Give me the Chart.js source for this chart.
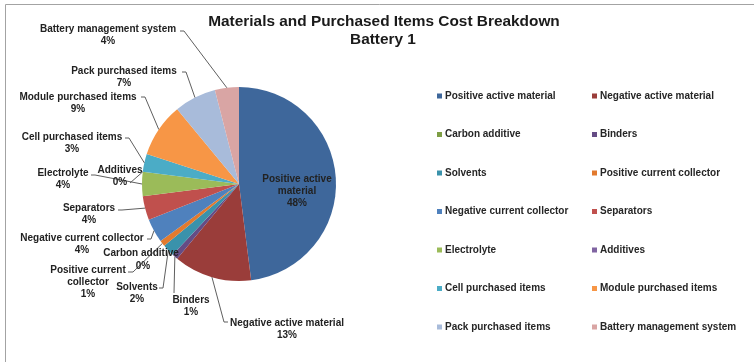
<!DOCTYPE html>
<html>
<head>
<meta charset="utf-8">
<title>Materials and Purchased Items Cost Breakdown - Battery 1</title>
<script src="https://cdn.jsdelivr.net/npm/chart.js@4.4.1/dist/chart.umd.min.js"></script>
<style>
  html, body { margin: 0; padding: 0; background: #ffffff; }
  canvas { display: block; }
</style>
</head>
<body>
<canvas id="costChart" width="754" height="362"></canvas>
<script>
// ---- data ----
const categories = [
  'Positive active material',
  'Negative active material',
  'Carbon additive',
  'Binders',
  'Solvents',
  'Positive current collector',
  'Negative current collector',
  'Separators',
  'Electrolyte',
  'Additives',
  'Cell purchased items',
  'Module purchased items',
  'Pack purchased items',
  'Battery management system'
];
const shares = [48, 13, 0, 1, 2, 1, 4, 4, 4, 0, 3, 9, 7, 4];
const chartTitle = ['Materials and Purchased Items Cost Breakdown', 'Battery 1'];

// ---- styling ----
const sliceColors = [
  '#3E679B', '#9A3D3A', '#7E9E45', '#654C85', '#3A92AB', '#E27A2E',
  '#4F81BD', '#C0504D', '#9BBB59', '#8064A2', '#4BACC6', '#F79646',
  '#A8BBDA', '#D9A5A4'
];
const FONT = '"Liberation Sans", Arial, Helvetica, sans-serif';
const PIE = { cx: 239, cy: 184, r: 97 };

// Per-slice label placement: text block centre (x, first-line y),
// words on the first line when wrapped, and the text-side end of the
// leader line [x, y, elbowX]. The other end sits on the slice's rim.
const labelLayout = [
  { x: 297, y: 179, wrap: 2 },
  { x: 287, y: 323, lead: [228, 322, 224] },
  { x: 141, y: 253, y2: 266, x2: 143 },
  { x: 191, y: 300, lead: [174, 293] },
  { x: 137, y: 287, lead: [159, 288, 163] },
  { x: 88,  y: 270, wrap: 2, lead: [128, 272, 133] },
  { x: 82,  y: 238, lead: [147, 239, 151] },
  { x: 89,  y: 208, lead: [118, 210, 122] },
  { x: 63,  y: 173, lead: [91, 175, 95] },
  { x: 120, y: 170, lead: [130, 183] },
  { x: 72,  y: 137, lead: [125, 138, 129] },
  { x: 78,  y: 97,  lead: [141, 97, 145] },
  { x: 124, y: 71,  lead: [182, 72, 186] },
  { x: 108, y: 29,  lead: [180, 31, 184] }
];

// legend grid: two columns, seven rows
const legendCols = [437, 592];
const legendTop = 96;
const legendRowGap = 38.5;

const framePlugin = {
  id: 'frame',
  beforeDraw(chart) {
    const ctx = chart.ctx;
    ctx.save();
    ctx.fillStyle = '#ffffff';
    ctx.fillRect(0, 0, chart.width, chart.height);
    ctx.strokeStyle = '#a3a3a3';
    ctx.lineWidth = 1;
    ctx.beginPath();
    ctx.moveTo(5.5, chart.height);
    ctx.lineTo(5.5, 4.5);
    ctx.lineTo(chart.width, 4.5);
    ctx.stroke();
    ctx.restore();
  }
};

const titlePlugin = {
  id: 'titleBlock',
  afterDraw(chart) {
    const ctx = chart.ctx;
    ctx.save();
    ctx.fillStyle = '#1a1a1a';
    ctx.font = 'bold 15.4px ' + FONT;
    ctx.textAlign = 'center';
    ctx.textBaseline = 'middle';
    ctx.fillText(chartTitle[0], 384, 22);
    ctx.fillText(chartTitle[1], 383, 40);
    ctx.restore();
  }
};

const sliceLabelPlugin = {
  id: 'sliceLabels',
  afterDatasetsDraw(chart) {
    const ctx = chart.ctx;
    const meta = chart.getDatasetMeta(0);
    const total = shares.reduce((a, b) => a + b, 0);
    ctx.save();
    // leader lines first, text on top
    ctx.strokeStyle = '#5f5f5f';
    ctx.lineWidth = 1;
    meta.data.forEach((arc, i) => {
      const L = labelLayout[i];
      if (!L.lead) return;
      const mid = (arc.startAngle + arc.endAngle) / 2;
      const ex = arc.x + Math.cos(mid) * arc.outerRadius;
      const ey = arc.y + Math.sin(mid) * arc.outerRadius;
      ctx.beginPath();
      ctx.moveTo(L.lead[0], L.lead[1]);
      if (L.lead.length > 2) ctx.lineTo(L.lead[2], L.lead[1]);
      ctx.lineTo(ex, ey);
      ctx.stroke();
    });
    ctx.font = 'bold 10px ' + FONT;
    ctx.fillStyle = '#222222';
    ctx.textAlign = 'center';
    ctx.textBaseline = 'middle';
    meta.data.forEach((arc, i) => {
      const L = labelLayout[i];
      const words = categories[i].split(' ');
      const lines = L.wrap
        ? [words.slice(0, L.wrap).join(' '), words.slice(L.wrap).join(' ')]
        : [categories[i]];
      lines.push(Math.round(shares[i] / total * 100) + '%');
      lines.forEach((t, k) => {
        const isLast = k === lines.length - 1;
        const x = (isLast && L.x2 !== undefined) ? L.x2 : L.x;
        const y = (isLast && L.y2 !== undefined) ? L.y2 : L.y + k * 12;
        ctx.fillText(t, x, y);
      });
    });
    ctx.restore();
  }
};

const legendPlugin = {
  id: 'gridLegend',
  afterDraw(chart) {
    const ctx = chart.ctx;
    ctx.save();
    ctx.font = 'bold 10px ' + FONT;
    ctx.textAlign = 'left';
    ctx.textBaseline = 'middle';
    categories.forEach((name, i) => {
      const x = legendCols[i % 2];
      const y = legendTop + Math.floor(i / 2) * legendRowGap;
      ctx.fillStyle = sliceColors[i];
      ctx.fillRect(x, y - 2.5, 5, 5);
      ctx.fillStyle = '#262626';
      ctx.fillText(name, x + 8, y);
    });
    ctx.restore();
  }
};

new Chart(document.getElementById('costChart'), {
  type: 'pie',
  data: {
    labels: categories,
    datasets: [{
      data: shares,
      backgroundColor: sliceColors,
      borderWidth: 0,
      offset: 0,
      hoverOffset: 0,
      radius: PIE.r
    }]
  },
  options: {
    responsive: false,
    animation: false,
    devicePixelRatio: 1,
    events: [],
    layout: {
      padding: {
        left: PIE.cx - PIE.r,
        right: 754 - (PIE.cx + PIE.r),
        top: PIE.cy - PIE.r,
        bottom: 362 - (PIE.cy + PIE.r)
      }
    },
    plugins: {
      legend: { display: false },
      title: { display: false },
      tooltip: { enabled: false }
    }
  },
  plugins: [framePlugin, sliceLabelPlugin, titlePlugin, legendPlugin]
});
</script>
</body>
</html>
